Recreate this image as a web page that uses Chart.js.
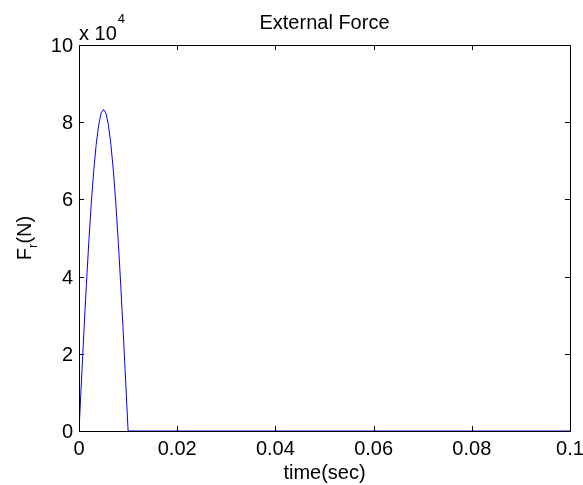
<!DOCTYPE html>
<html>
<head>
<meta charset="utf-8">
<script src="https://cdn.jsdelivr.net/npm/chart.js@4"></script>
<style>
body { margin: 0; background: #fff; }
#wrap { width: 583px; height: 485px; }
</style>
</head>
<body>
<div id="wrap"><canvas id="forceChart" width="583" height="485"></canvas></div>
<script>
// time (sec) and force (N)
let timeSec = [0, 0.0005, 0.001, 0.0015, 0.002, 0.0025, 0.003, 0.0035, 0.004, 0.0045, 0.005,
	0.0055, 0.006, 0.0065, 0.007, 0.0075, 0.008, 0.0085, 0.009, 0.0095, 0.01, 0.02, 0.04, 0.06, 0.08, 0.1];
let forceN = [0, 13000, 25800, 37800, 49000, 59000, 67400, 74200, 79200, 82300, 83300,
	82300, 79200, 74200, 67400, 59000, 49000, 37800, 25800, 13000, 0, 0, 0, 0, 0, 0];
let xTicks = [0, 0.02, 0.04, 0.06, 0.08, 0.1];
let yTicks = [0, 20000, 40000, 60000, 80000, 100000];
let chartTitle = "External Force";
let xLabel = "time(sec)";

let font = "20px 'Liberation Sans', Arial, sans-serif";
let smallFont = "13px 'Liberation Sans', Arial, sans-serif";

let pts = [];
for (let i = 0; i < timeSec.length; i++) {
	pts.push({ x: timeSec[i], y: forceN[i] });
}

function fmtX(v) {
	if (v == 0) return "0";
	return String(Math.round(v * 100) / 100);
}

// matlab-ish box, inward ticks and labels
const matlabAxes = {
	id: "matlabAxes",
	afterDraw(chart) {
		const ctx = chart.ctx;
		const a = chart.chartArea;
		const sx = chart.scales.x;
		const sy = chart.scales.y;
		ctx.save();
		ctx.strokeStyle = "#000";
		ctx.lineWidth = 1;
		ctx.strokeRect(Math.round(a.left) + 0.5, Math.round(a.top) + 0.5,
			Math.round(a.right - a.left), Math.round(a.bottom - a.top));
		ctx.fillStyle = "#000";
		ctx.beginPath();
		xTicks.forEach(function (v) {
			let px = Math.round(sx.getPixelForValue(v)) + 0.5;
			ctx.moveTo(px, a.bottom); ctx.lineTo(px, a.bottom - 5);
			ctx.moveTo(px, a.top); ctx.lineTo(px, a.top + 5);
		});
		yTicks.forEach(function (v) {
			let py = Math.round(sy.getPixelForValue(v)) + 0.5;
			ctx.moveTo(a.left, py); ctx.lineTo(a.left + 5, py);
			ctx.moveTo(a.right, py); ctx.lineTo(a.right - 5, py);
		});
		ctx.stroke();

		ctx.font = font;
		ctx.textBaseline = "alphabetic";
		ctx.textAlign = "center";
		xTicks.forEach(function (v) {
			ctx.fillText(fmtX(v), sx.getPixelForValue(v), a.bottom + 24);
		});
		ctx.textAlign = "right";
		yTicks.forEach(function (v) {
			ctx.fillText(String(v / 10000), a.left - 6, sy.getPixelForValue(v) + 7);
		});
		// exponent
		ctx.textAlign = "left";
		ctx.fillText("x 10", a.left, a.top - 5);
		let wx = ctx.measureText("x 10").width;
		ctx.font = smallFont;
		ctx.fillText("4", a.left + wx + 1, a.top - 22);
		// title and x label
		ctx.font = font;
		ctx.textAlign = "center";
		ctx.fillText(chartTitle, (a.left + a.right) / 2, a.top - 16);
		ctx.fillText(xLabel, (a.left + a.right) / 2, a.bottom + 48);
		// y label with subscript
		ctx.translate(31, (a.top + a.bottom) / 2);
		ctx.rotate(-Math.PI / 2);
		ctx.textAlign = "left";
		let wF = ctx.measureText("F").width;
		ctx.font = smallFont;
		let wr = ctx.measureText("r").width;
		ctx.font = font;
		let wN = ctx.measureText("(N)").width;
		let x0 = -(wF + wr + wN) / 2;
		ctx.fillText("F", x0, 0);
		ctx.font = smallFont;
		ctx.fillText("r", x0 + wF, 6);
		ctx.font = font;
		ctx.fillText("(N)", x0 + wF + wr, 0);
		ctx.restore();
	}
};

const ctx = document.getElementById("forceChart");
const forceChart = new Chart(ctx, {
	type: "scatter",
	data: {
		datasets: [{
			data: pts,
			showLine: true,
			borderColor: "#0000ff",
			borderWidth: 1,
			pointRadius: 0,
			tension: 0
		}]
	},
	options: {
		responsive: false,
		animation: false,
		layout: { padding: { left: 79, right: 13, top: 45, bottom: 54 } },
		plugins: { legend: { display: false }, tooltip: { enabled: false }, title: { display: false } },
		scales: {
			x: {
				type: "linear", min: 0, max: 0.1,
				ticks: { display: false, stepSize: 0.02 },
				grid: { display: false, drawTicks: false },
				border: { display: false }
			},
			y: {
				type: "linear", min: 0, max: 100000,
				ticks: { display: false, stepSize: 20000 },
				grid: { display: false, drawTicks: false },
				border: { display: false }
			}
		}
	},
	plugins: [matlabAxes]
});
</script>
</body>
</html>
